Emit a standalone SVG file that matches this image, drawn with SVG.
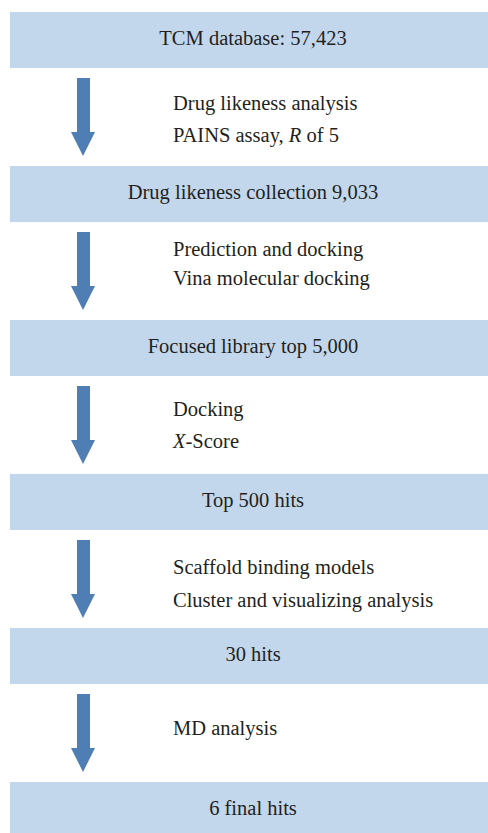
<svg xmlns="http://www.w3.org/2000/svg" width="488" height="833" viewBox="0 0 488 833">
<style>
.box{fill:#c3d7ec}
.arrow{fill:#4e7eb3}
text{font-family:"Liberation Serif","Times New Roman",serif;font-size:20.5px;fill:#231f20}
.c{text-anchor:middle}
</style>
<defs>
<path id="arr" class="arrow" d="M77,0 H90 V54 H95 L83,78 L71,54 H77 Z"/>
</defs>
<rect width="488" height="833" fill="#ffffff"/>
<g id="connectors">
<use href="#arr" y="78"/>
<use href="#arr" y="232"/>
<use href="#arr" y="386"/>
<use href="#arr" y="540"/>
<use href="#arr" y="694"/>
</g>
<g id="node1"><rect class="box" x="10" y="12" width="490" height="56"/><text class="c" x="253" y="45">TCM database: 57,423</text></g>
<g id="label1"><text x="173" y="110">Drug likeness analysis</text><text x="173" y="142">PAINS assay, <tspan font-style="italic">R</tspan> of 5</text></g>
<g id="node2"><rect class="box" x="10" y="166" width="490" height="56"/><text class="c" x="253" y="199">Drug likeness collection 9,033</text></g>
<g id="label2"><text x="173" y="256">Prediction and docking</text><text x="173" y="285">Vina molecular docking</text></g>
<g id="node3"><rect class="box" x="10" y="320" width="490" height="56"/><text class="c" x="253" y="353">Focused library top 5,000</text></g>
<g id="label3"><text x="173" y="416">Docking</text><text x="173" y="448"><tspan font-style="italic">X</tspan>-Score</text></g>
<g id="node4"><rect class="box" x="10" y="474" width="490" height="56"/><text class="c" x="253" y="507">Top 500 hits</text></g>
<g id="label4"><text x="173" y="574">Scaffold binding models</text><text x="173" y="607">Cluster and visualizing analysis</text></g>
<g id="node5"><rect class="box" x="10" y="628" width="490" height="56"/><text class="c" x="253" y="661">30 hits</text></g>
<g id="label5"><text x="173" y="735">MD analysis</text></g>
<g id="node6"><rect class="box" x="10" y="782" width="490" height="56"/><text class="c" x="253" y="815">6 final hits</text></g>
</svg>
